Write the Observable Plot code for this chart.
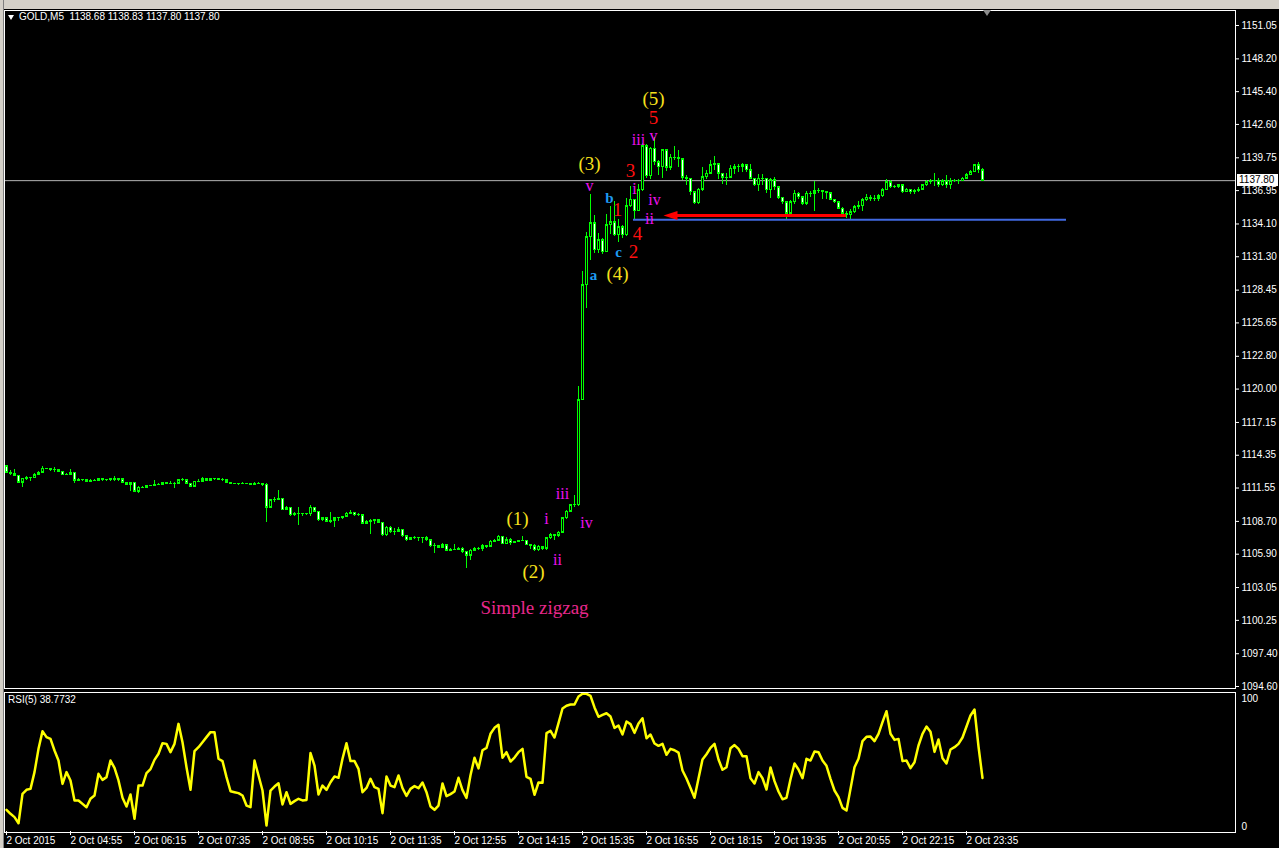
<!DOCTYPE html>
<html><head><meta charset="utf-8">
<script src="https://cdn.jsdelivr.net/npm/d3@7"></script>
<script src="https://cdn.jsdelivr.net/npm/@observablehq/plot@0.6"></script>
<style>
html,body{margin:0;padding:0;background:#000;}
#wrap{position:relative;width:1279px;height:848px;background:#000;overflow:hidden;font-family:"Liberation Sans",Arial,sans-serif;}
#toolbar{position:absolute;left:0;top:0;width:1279px;height:9px;background:#d4d0c8;}
#leftedge{position:absolute;left:0;top:0;width:3px;height:848px;background:#d4d0c8;border-right:1px solid #808080;}
.lbl{position:absolute;color:#fff;font-size:10px;line-height:12px;white-space:pre;}
#main,#rsi{position:absolute;left:0;}
#main{top:0;} #rsi{top:690px;}
#tri{position:absolute;left:8px;top:15px;width:0;height:0;border-left:3.5px solid transparent;border-right:3.5px solid transparent;border-top:5px solid #fff;}
#shift{position:absolute;left:983px;top:10px;width:0;height:0;border-left:4px solid transparent;border-right:4px solid transparent;border-top:6px solid #8c8c8c;}
#pricebox{position:absolute;left:1237px;width:41px;height:12px;background:#fff;color:#000;font-size:10px;line-height:12px;padding-left:2px;box-sizing:border-box;}
</style></head>
<body><div id="wrap">
<div id="main"></div>
<div id="rsi"></div>
<div id="toolbar"></div>
<div id="leftedge"></div>
<div id="tri"></div>
<div class="lbl" id="title" style="left:19px;top:11px;"></div>
<div class="lbl" id="rsititle" style="left:8px;top:694px;"></div>
<div id="shift"></div>
<div id="pricebox"></div>
</div>
<script>
// ---------- data ----------
const symbolName = "GOLD,M5";
const firstOpen = 1113.41;
const closes = [
1112.84,1112.72,1112.58,1112.02,1112.36,1112.43,1112.40,1112.64,1112.84,1113.21,
1113.16,1113.07,1113.13,1112.92,1112.64,1112.67,1112.87,1112.16,1112.22,1112.22,
1112.10,1112.13,1112.16,1112.30,1112.22,1112.22,1112.30,1112.22,1112.28,1111.99,
1111.85,1111.99,1111.22,1111.59,1111.56,1111.73,1111.73,1111.77,1111.85,1111.99,
1111.93,1111.93,1111.93,1112.22,1112.22,1111.93,1111.68,1112.07,1112.10,1112.28,
1112.16,1112.28,1112.28,1112.22,1112.22,1111.99,1111.93,1111.87,1111.87,1111.90,
1111.90,1111.82,1111.93,1111.93,1111.85,1109.85,1110.51,1110.51,1110.65,1109.66,
1109.85,1109.23,1109.31,1109.37,1109.31,1109.31,1109.88,1109.51,1108.80,1108.95,
1108.66,1108.74,1108.95,1108.95,1109.08,1109.37,1109.45,1109.23,1109.23,1108.52,
1108.66,1108.74,1108.80,1108.57,1107.52,1108.17,1107.80,1107.80,1108.00,1107.44,
1107.10,1107.24,1107.32,1107.24,1107.24,1107.10,1106.58,1106.58,1106.44,1106.67,
1106.18,1106.24,1106.30,1106.38,1106.10,1105.75,1106.18,1106.38,1106.38,1106.58,
1106.52,1106.95,1107.04,1107.38,1106.75,1107.10,1106.84,1106.95,1107.04,1107.04,
1106.67,1106.58,1106.24,1106.52,1106.38,1107.24,1107.52,1107.46,1107.72,1108.95,
1109.51,1110.08,1110.08,1119.04,1128.86,1132.98,1134.18,1131.85,1132.70,1131.70,
1133.98,1134.26,1133.13,1133.84,1133.13,1135.60,1136.17,1135.20,1136.97,1140.72,
1138.16,1140.52,1139.38,1138.96,1140.38,1138.90,1139.76,1139.76,1139.61,1138.05,
1137.95,1136.82,1135.88,1137.03,1138.10,1138.39,1139.10,1139.19,1138.39,1138.05,
1138.05,1138.82,1138.96,1138.96,1139.10,1138.67,1137.97,1137.39,1137.97,1137.97,
1136.97,1137.82,1137.25,1136.34,1135.97,1134.98,1135.97,1136.69,1136.40,1135.83,
1136.69,1136.69,1136.91,1136.91,1136.82,1136.74,1136.17,1135.97,1135.40,1134.98,
1134.86,1135.12,1135.54,1135.60,1136.11,1136.34,1136.26,1136.26,1136.46,1136.97,
1137.67,1137.25,1137.25,1137.39,1136.82,1137.03,1136.82,1136.88,1137.03,1137.39,
1137.67,1137.76,1137.76,1137.39,1137.76,1137.39,1137.76,1137.76,1137.76,1137.97,
1138.25,1138.53,1139.10,1138.68,1137.80];
const highs = [
1113.45,1113.07,1113.13,1112.58,1112.40,1112.50,1112.45,1112.80,1112.95,1113.41,
1113.25,1113.16,1113.33,1113.10,1112.95,1112.75,1113.10,1112.87,1112.35,1112.30,
1112.20,1112.30,1112.25,1112.36,1112.36,1112.30,1112.36,1112.50,1112.33,1112.20,
1112.00,1112.05,1111.99,1111.65,1111.65,1111.80,1111.80,1112.22,1111.90,1112.05,
1112.00,1112.10,1111.99,1112.30,1112.35,1112.20,1111.95,1112.15,1112.25,1112.45,
1112.30,1112.40,1112.38,1112.30,1112.35,1112.30,1111.99,1111.93,1111.90,1112.00,
1111.95,1111.90,1111.99,1112.05,1111.93,1111.90,1110.60,1110.75,1111.30,1110.65,
1109.95,1109.90,1109.45,1109.90,1109.40,1109.40,1110.05,1109.88,1109.50,1109.00,
1108.95,1109.45,1109.00,1109.05,1109.15,1109.45,1109.60,1109.30,1109.35,1109.23,
1108.75,1108.85,1108.90,1108.70,1108.60,1108.25,1108.25,1108.10,1108.20,1108.00,
1107.50,1107.35,1107.40,1107.30,1107.35,1107.40,1107.10,1106.80,1106.60,1106.80,
1106.70,1106.35,1106.70,1106.50,1106.45,1106.10,1106.30,1106.45,1106.45,1106.70,
1106.60,1107.10,1107.15,1107.50,1107.40,1107.30,1107.20,1107.00,1107.10,1107.40,
1107.04,1106.70,1106.70,1106.60,1106.55,1107.30,1107.65,1107.60,1107.80,1109.05,
1109.60,1110.15,1110.90,1120.24,1130.05,1133.41,1136.60,1134.83,1133.30,1132.90,
1134.90,1135.60,1136.00,1134.50,1134.00,1136.30,1137.30,1136.20,1137.50,1141.00,
1140.90,1140.60,1141.50,1139.50,1140.50,1140.40,1140.00,1140.70,1140.40,1139.60,
1138.25,1137.50,1136.90,1137.10,1138.90,1138.70,1139.50,1139.85,1139.20,1138.40,
1138.40,1139.10,1139.20,1139.20,1139.25,1139.20,1139.15,1138.00,1138.30,1138.30,
1137.90,1138.00,1138.10,1137.25,1136.40,1136.00,1136.10,1137.00,1136.80,1136.40,
1136.90,1136.90,1137.70,1137.10,1137.00,1136.90,1136.80,1136.20,1136.00,1135.50,
1135.20,1135.30,1135.65,1136.00,1136.30,1136.60,1136.50,1136.50,1136.60,1137.10,
1137.90,1137.80,1137.40,1137.50,1137.50,1137.10,1137.00,1137.05,1137.20,1137.50,
1137.80,1137.90,1138.40,1138.00,1137.90,1138.20,1138.00,1137.90,1137.90,1138.10,
1138.40,1138.65,1139.20,1139.35,1138.83];
const lows = [
1112.75,1112.64,1112.50,1111.93,1111.56,1112.20,1112.15,1112.36,1112.60,1112.84,
1113.10,1112.99,1112.90,1112.87,1112.60,1112.60,1112.60,1111.94,1112.10,1112.15,
1112.00,1112.05,1112.10,1112.08,1112.10,1112.15,1112.15,1112.08,1112.13,1111.96,
1111.80,1111.25,1111.15,1111.10,1111.50,1111.50,1111.68,1111.70,1111.80,1111.75,
1111.88,1111.88,1111.50,1111.90,1112.10,1111.85,1111.60,1111.62,1112.05,1112.08,
1112.10,1112.20,1112.22,1112.18,1112.15,1111.94,1111.88,1111.82,1111.80,1111.82,
1111.85,1111.78,1111.76,1111.88,1111.70,1108.62,1109.85,1110.35,1110.50,1109.60,
1109.60,1109.10,1109.10,1108.34,1109.10,1109.20,1109.10,1109.45,1108.72,1108.70,
1108.60,1108.50,1108.20,1108.70,1108.90,1109.05,1109.30,1109.10,1109.15,1108.40,
1108.50,1107.60,1108.40,1108.50,1107.45,1107.45,1107.70,1107.50,1107.75,1107.35,
1107.00,1107.10,1107.15,1107.00,1106.85,1107.00,1106.50,1106.00,1106.35,1106.40,
1106.10,1106.10,1106.20,1106.25,1106.00,1104.70,1105.35,1106.10,1106.20,1106.15,
1106.35,1106.50,1106.90,1107.00,1106.70,1106.70,1106.60,1106.85,1106.95,1106.95,
1106.60,1106.30,1106.15,1106.15,1106.20,1106.20,1107.15,1107.10,1107.35,1107.70,
1108.90,1109.45,1109.90,1110.00,1119.00,1126.87,1130.99,1131.60,1131.60,1131.50,
1132.80,1133.20,1133.00,1132.50,1132.90,1133.00,1135.50,1134.47,1135.20,1136.90,
1138.00,1137.90,1139.10,1138.20,1138.00,1138.60,1138.70,1139.50,1138.90,1137.80,
1137.40,1136.54,1135.80,1135.80,1136.90,1137.90,1138.30,1138.70,1137.90,1137.50,
1137.40,1137.95,1138.30,1138.50,1138.50,1138.50,1137.90,1137.30,1136.90,1137.40,
1136.70,1136.30,1137.00,1136.20,1135.80,1134.50,1134.90,1135.80,1136.20,1135.70,
1135.70,1136.40,1135.20,1136.70,1136.20,1136.20,1136.10,1135.85,1135.30,1134.90,
1134.55,1134.50,1135.00,1135.30,1135.20,1136.00,1136.00,1136.00,1136.00,1136.40,
1136.97,1137.10,1137.10,1137.10,1136.70,1136.80,1136.60,1136.65,1136.80,1137.00,
1137.30,1137.50,1137.30,1137.20,1137.30,1137.10,1137.05,1137.60,1137.50,1137.70,
1137.90,1138.20,1138.50,1138.45,1137.80];
const rsi5 = [
15.7,12.8,10.4,6.0,27.3,30.2,30.9,43.0,59.9,72.7,
68.4,67.1,58.7,51.4,34.5,43.0,37.0,22.5,22.5,20.0,
17.6,23.7,26.1,41.8,37.4,39.4,51.4,46.1,37.0,24.4,
18.1,26.8,9.2,33.3,33.3,42.3,45.2,51.9,56.3,64.0,
63.5,57.5,63.5,78.0,64.7,46.6,30.2,58.2,61.1,64.7,
68.4,72.0,72.0,52.7,51.0,39.4,29.2,28.5,27.8,26.1,
18.8,17.6,51.4,40.6,29.7,4.3,29.7,32.6,35.0,19.6,
28.5,20.0,22.0,23.7,22.5,22.9,56.8,47.8,26.8,33.3,
30.2,35.7,39.9,38.9,52.7,64.0,51.0,51.0,45.4,28.5,
31.6,38.2,32.1,30.9,13.3,39.9,33.3,32.1,40.6,31.4,
25.8,30.9,32.9,31.4,35.5,28.5,18.1,15.7,18.8,34.8,
25.6,27.1,29.0,38.9,30.0,24.4,40.8,53.4,45.7,58.9,
60.6,70.8,75.1,77.3,53.4,57.5,50.7,53.6,57.5,59.9,
39.6,38.2,26.6,35.5,35.3,71.3,72.9,68.1,78.5,89.1,
91.1,92.0,92.0,97.8,99.8,99.8,98.3,89.9,83.1,84.5,
85.7,83.3,75.1,76.8,70.3,79.7,77.8,71.5,78.3,82.1,
67.6,70.3,63.8,62.1,63.5,55.6,59.9,58.9,57.2,44.2,
38.4,31.6,24.4,38.4,52.2,56.0,60.6,63.5,52.2,44.7,
46.6,60.4,62.6,59.9,54.6,54.6,38.6,34.8,43.0,38.6,
30.4,46.4,36.5,29.0,23.4,24.4,37.9,49.3,44.9,38.6,
52.7,51.4,58.0,57.5,51.4,47.6,38.2,29.7,24.9,17.1,
15.2,30.9,46.6,52.7,65.5,68.6,68.8,65.5,70.8,79.2,
87.2,70.8,66.4,67.1,51.0,51.4,45.9,50.2,62.3,70.8,
76.1,72.2,57.7,66.7,53.1,49.3,59.4,61.1,63.5,68.1,
76.1,84.1,88.4,61.6,38.7732];
const rsiLabel = "RSI(5) 38.7732";
const priceTicks = [1151.05,1148.20,1145.40,1142.60,1139.75,1136.95,1134.10,1131.30,1128.45,1125.65,1122.80,1120.00,1117.15,1114.35,1111.55,1108.70,1105.90,1103.05,1100.25,1097.40,1094.60];
const timeTickBars = [0,16,32,48,64,80,96,112,128,144,160,176,192,208,224,240];
const timeTickLabels = ["2 Oct 2015","2 Oct 04:55","2 Oct 06:15","2 Oct 07:35","2 Oct 08:55","2 Oct 10:15","2 Oct 11:35","2 Oct 12:55","2 Oct 14:15","2 Oct 15:35","2 Oct 16:55","2 Oct 18:15","2 Oct 19:35","2 Oct 20:55","2 Oct 22:15","2 Oct 23:35"];
const waveText   = ["(5)","5","iii","v","(3)","3","v","i","b","1","iv","ii","4","c","2","a","(4)","(1)","i","iii","iv","ii","(2)","Simple zigzag"];
const waveBar    = [161.75,161.75,158,161.75,145.75,156,145.75,157,150.75,152.75,162,160.75,157.75,153,156.75,146.75,152.75,127.75,135,139,145,137.75,131.75,132];
const wavePrice  = [1144.82,1143.19,1141.31,1141.66,1139.26,1138.67,1137.39,1137.13,1136.28,1135.34,1136.19,1134.57,1133.29,1131.66,1131.75,1129.70,1129.87,1108.95,1108.95,1111.08,1108.61,1105.45,1104.42,1101.35];
const waveDegree = ["primary","minor","minute","minute","primary","minor","minute","minute","abc","minor","minute","minute","minor","abc","minor","abc","primary","primary","minute","minute","minute","minute","primary","note"];
const levelStartBar = 156.75, levelEndBar = 265, levelPrice = 1134.47;
const arrowFromBar = 210, arrowToBar = 164.25, arrowPrice = 1134.83;

// ---------- build ----------
const candles = closes.map((c, i) => ({i, o: i === 0 ? firstOpen : closes[i - 1], h: highs[i], l: lows[i], c}));
const lastC = candles[candles.length - 1];
const rsiPts = rsi5.map((v, i) => ({i, v}));
const waves = waveText.map((t, k) => ({t, bar: waveBar[k], price: wavePrice[k], deg: waveDegree[k]}));
const degStyle = {
  primary: {fill: "#f7e01c", size: 19, weight: "normal"},
  minor:   {fill: "#ff1010", size: 19, weight: "normal"},
  minute:  {fill: "#f010f0", size: 16, weight: "normal"},
  abc:     {fill: "#1e9bf0", size: 15, weight: "bold"},
  note:    {fill: "#e8288c", size: 19, weight: "normal"}
};
const serif = "'Liberation Serif','Times New Roman',serif";
const lime = "#00ff00";
const xDomain = [-0.25, 307.25];
const baseStyle = {background: "#000", color: "#fff", fontFamily: "'Liberation Sans',Arial,sans-serif", fontSize: "10px", overflow: "visible"};

const leftHead = {draw(ctx) { ctx.moveTo(-7, 0); ctx.lineTo(7, -4.5); ctx.lineTo(7, 4.5); ctx.closePath(); }};
const arrowData = [{from: arrowFromBar, to: arrowToBar, price: arrowPrice}];

const bodyLo = d => Math.min(d.o, d.c), bodyHi = d => Math.max(d.o, d.c);
const waveMarks = Object.keys(degStyle).map(k => Plot.text(waves.filter(d => d.deg === k), {
  x: "bar", y: "price", text: "t", fill: degStyle[k].fill, fontSize: degStyle[k].size,
  fontWeight: degStyle[k].weight, fontFamily: serif
}));

const main = Plot.plot({
  width: 1279, height: 690, marginTop: 10, marginBottom: 2, marginLeft: 5, marginRight: 44,
  style: baseStyle,
  x: {domain: xDomain, axis: null, label: null},
  y: {domain: [1094.43, 1152.33], axis: null, label: null},
  marks: [
    Plot.ruleY([lastC.c], {stroke: "#b4b4b4", strokeWidth: 1}),
    Plot.ruleX(candles, {x: "i", y1: d => Math.min(d.l, d.o, d.c), y2: d => Math.max(d.h, d.o, d.c), stroke: lime, strokeWidth: 1, shapeRendering: "crispEdges"}),
    Plot.rect(candles, {x1: d => d.i - 0.375, x2: d => d.i + 0.375, y1: bodyLo, y2: bodyHi, fill: lime, insetTop: -0.5, insetBottom: -0.5, shapeRendering: "crispEdges"}),
    Plot.rect(candles.filter(d => d.c - d.o > 0.2), {x1: d => d.i - 0.125, x2: d => d.i + 0.125, y1: bodyLo, y2: bodyHi, fill: "#000", insetTop: 1, insetBottom: 1, shapeRendering: "crispEdges"}),
    Plot.rect(candles.filter(d => d.o - d.c > 0.2), {x1: d => d.i - 0.125, x2: d => d.i + 0.125, y1: bodyLo, y2: bodyHi, fill: "#fff", insetTop: 1, insetBottom: 1, shapeRendering: "crispEdges"}),
    Plot.ruleY([{x1: levelStartBar, x2: levelEndBar, y: levelPrice}], {x1: "x1", x2: "x2", y: "y", stroke: "#4169e1", strokeWidth: 2}),
    Plot.ruleY(arrowData, {y: "price", x1: d => d.to + 3, x2: "from", stroke: "#ff0000", strokeWidth: 3}),
    Plot.dot(arrowData, {x: d => d.to + 1.75, y: "price", symbol: leftHead, r: 7, fill: "#ff0000", stroke: "none"}),
    ...waveMarks,
    Plot.frame({stroke: "#fff", insetLeft: -1}),
    Plot.axisY(priceTicks, {anchor: "right", label: null, tickSize: 3, tickPadding: 3, tickFormat: d => d.toFixed(2), fill: "#fff", stroke: "#fff"})
  ]
});
document.getElementById("main").appendChild(main);

const labelMap = new Map(timeTickBars.map((b, k) => [b - 0.25, timeTickLabels[k]]));
const rsiPlot = Plot.plot({
  width: 1279, height: 158, marginTop: 3, marginBottom: 17, marginLeft: 5, marginRight: 44,
  style: baseStyle,
  x: {domain: xDomain, axis: null, label: null},
  y: {domain: [0, 100], axis: null, label: null},
  marks: [
    Plot.line(rsiPts, {x: "i", y: "v", stroke: "#ffff00", strokeWidth: 2.5}),
    Plot.frame({stroke: "#fff", insetTop: -1, insetBottom: -1, insetLeft: -1}),
    Plot.axisY([100], {anchor: "right", label: null, tickSize: 0, tickPadding: 6, dy: 5, fill: "#fff"}),
    Plot.axisY([0], {anchor: "right", label: null, tickSize: 0, tickPadding: 6, dy: -5, fill: "#fff"}),
    Plot.axisX(timeTickBars.map(b => b - 0.25), {anchor: "bottom", label: null, tickSize: 4, tickPadding: 1, textAnchor: "start", dx: 1, tickFormat: d => labelMap.get(d), fill: "#fff", stroke: "#fff"})
  ]
});
document.getElementById("rsi").appendChild(rsiPlot);

document.getElementById("title").textContent = symbolName + "  " + [lastC.o, lastC.h, lastC.l, lastC.c].map(v => v.toFixed(2)).join(" ");
document.getElementById("rsititle").textContent = rsiLabel;
const yPix = main.scale("y").apply(lastC.c);
const pb = document.getElementById("pricebox");
pb.style.top = (yPix - 6) + "px";
pb.textContent = lastC.c.toFixed(2);
</script>
</body></html>
